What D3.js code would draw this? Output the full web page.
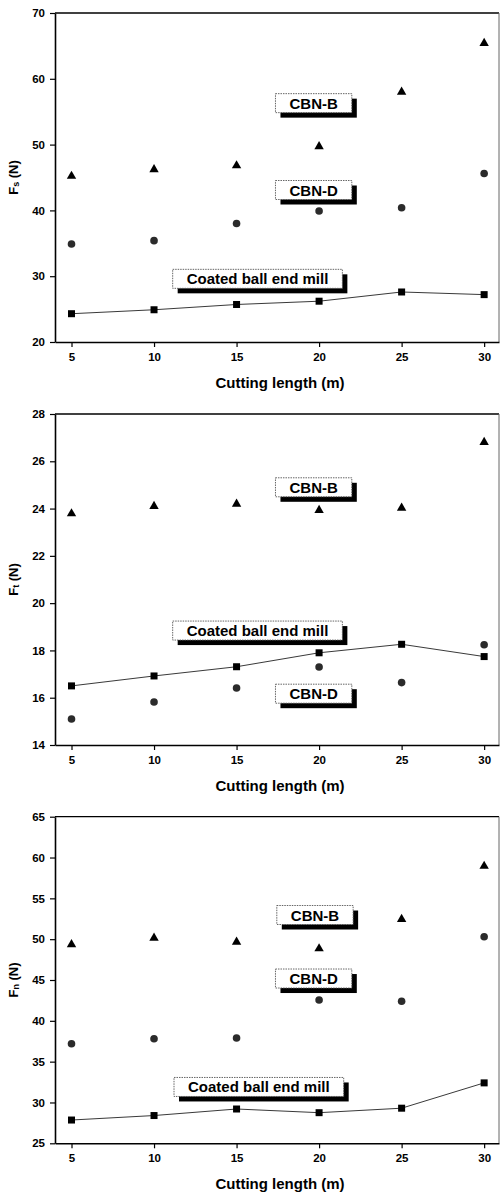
<!DOCTYPE html>
<html>
<head>
<meta charset="utf-8">
<script src="https://cdn.jsdelivr.net/npm/d3@7/dist/d3.min.js"></script>
<style>
  html, body { margin: 0; padding: 0; background: #fff; }
  svg { display: block; }
  text { font-family: "Liberation Sans", Arial, Helvetica, sans-serif; font-weight: bold; fill: #000; }
</style>
</head>
<body>
<svg id="chart" width="500" height="1194"></svg>
<script>
// ---------- data ----------
const cuttingLength = [5, 10, 15, 20, 25, 30];
const xTicks = [5, 10, 15, 20, 25, 30];

// Fs (N)
const fsCBNB   = [45.4, 46.4, 47.0, 49.9, 58.2, 65.6];
const fsCBND   = [34.9, 35.4, 38.0, 39.9, 40.4, 45.6];
const fsCoated = [24.3, 24.9, 25.7, 26.2, 27.6, 27.2];
const fsTicks  = [20, 30, 40, 50, 60, 70];

// Ft (N)
const ftCBNB   = [23.84, 24.15, 24.25, 23.98, 24.08, 26.86];
const ftCBND   = [15.10, 15.82, 16.41, 17.30, 16.64, 18.24];
const ftCoated = [16.50, 16.92, 17.31, 17.90, 18.26, 17.74];
const ftTicks  = [14, 16, 18, 20, 22, 24, 26, 28];

// Fn (N)
const fnCBNB   = [49.5, 50.3, 49.8, 49.0, 52.6, 59.1];
const fnCBND   = [37.2, 37.8, 37.9, 42.55, 42.4, 50.3];
const fnCoated = [27.85, 28.4, 29.2, 28.75, 29.3, 32.4];
const fnTicks  = [25, 30, 35, 40, 45, 50, 55, 60, 65];

// annotation labels (data coordinates of box centres)
const fsNotes = [
  {text: "CBN-B", x: 19.67, y: 56.3},
  {text: "CBN-D", x: 19.67, y: 43.1},
  {text: "Coated ball end mill", x: 16.27, y: 29.6}
];
const ftNotes = [
  {text: "CBN-B", x: 19.67, y: 24.9},
  {text: "Coated ball end mill", x: 16.27, y: 18.84},
  {text: "CBN-D", x: 19.67, y: 16.17}
];
const fnNotes = [
  {text: "CBN-B", x: 19.75, y: 52.96},
  {text: "CBN-D", x: 19.67, y: 45.18},
  {text: "Coated ball end mill", x: 16.35, y: 31.9}
];

// ---------- layout ----------
const panels = [
  {sub: "s", ticks: fsTicks, b: fsCBNB, d: fsCBND, c: fsCoated, notes: fsNotes, top: 13, bottom: 342},
  {sub: "t", ticks: ftTicks, b: ftCBNB, d: ftCBND, c: ftCoated, notes: ftNotes, top: 414, bottom: 745},
  {sub: "n", ticks: fnTicks, b: fnCBNB, d: fnCBND, c: fnCoated, notes: fnNotes, top: 816.7, bottom: 1143.3}
];

const svg = d3.select("#chart");
const left = 55, right = 499;
const x = d3.scaleLinear().domain([4, 30.9]).range([left, right]);

panels.forEach(p => {
  const y = d3.scaleLinear().domain(d3.extent(p.ticks)).range([p.bottom, p.top]);
  const g = svg.append("g");

  // frame: top & right
  g.append("line").attr("x1", left).attr("x2", right).attr("y1", p.top).attr("y2", p.top)
    .attr("stroke", "#000").attr("stroke-width", 1.3);
  g.append("line").attr("x1", right).attr("x2", right).attr("y1", p.top).attr("y2", p.bottom)
    .attr("stroke", "#666").attr("stroke-width", 1);

  // y axis
  const ya = g.append("g").attr("transform", `translate(${left},0)`)
    .call(d3.axisLeft(y).tickValues(p.ticks).tickSize(5).tickSizeOuter(0).tickPadding(5).tickFormat(d3.format("d")));
  ya.select(".domain").attr("stroke", "#000").attr("stroke-width", 1.6);
  ya.selectAll(".tick line").attr("stroke", "#000").attr("stroke-width", 1.2);
  ya.selectAll("text").style("font-size", "11.5px").style("font-family", '"Liberation Sans", Arial, sans-serif').style("font-weight", "bold");

  // x axis
  const xa = g.append("g").attr("transform", `translate(0,${p.bottom})`)
    .call(d3.axisBottom(x).tickValues(xTicks).tickSize(5).tickSizeOuter(0).tickPadding(6).tickFormat(d3.format("d")));
  xa.select(".domain").attr("stroke", "#000").attr("stroke-width", 1.6);
  xa.selectAll(".tick line").attr("stroke", "#000").attr("stroke-width", 1.2);
  xa.selectAll("text").style("font-size", "11.5px").style("font-family", '"Liberation Sans", Arial, sans-serif').style("font-weight", "bold");

  // x title
  g.append("text").attr("x", (left + right) / 2 + 3).attr("y", p.bottom + 46)
    .attr("text-anchor", "middle").style("font-size", "15px").text("Cutting length (m)");

  // y title
  const yt = g.append("text")
    .attr("transform", `translate(13,${(p.top + p.bottom) / 2}) rotate(-90)`)
    .attr("text-anchor", "middle").attr("dominant-baseline", "central")
    .style("font-size", "13px");
  yt.append("tspan").text("F");
  yt.append("tspan").attr("dy", 3).style("font-size", "9px").text(p.sub);
  yt.append("tspan").attr("dy", -3).text(" (N)");

  // coated line
  const pts = cuttingLength.map((v, i) => [v, p.c[i]]);
  g.append("path").datum(pts)
    .attr("d", d3.line().x(d => x(d[0])).y(d => y(d[1])))
    .attr("fill", "none").attr("stroke", "#222").attr("stroke-width", 0.9);

  // squares
  const sq = 7;
  g.selectAll(".sq").data(pts).join("rect")
    .attr("x", d => x(d[0]) - sq / 2).attr("y", d => y(d[1]) - sq / 2)
    .attr("width", sq).attr("height", sq).attr("fill", "#000");

  // circles (CBN-D)
  g.selectAll(".ci").data(cuttingLength.map((v, i) => [v, p.d[i]])).join("circle")
    .attr("cx", d => x(d[0])).attr("cy", d => y(d[1])).attr("r", 3.8)
    .attr("fill", "#2b2b2b");

  // triangles (CBN-B)
  g.selectAll(".tr").data(cuttingLength.map((v, i) => [v, p.b[i]])).join("path")
    .attr("d", d => {
      const cx = x(d[0]), cy = y(d[1]);
      return `M${cx},${cy - 4.2}L${cx + 4.7},${cy + 4}L${cx - 4.7},${cy + 4}Z`;
    })
    .attr("fill", "#000");

  // annotation boxes
  p.notes.forEach(n => {
    const cx = x(n.x), cy = y(n.y);
    const ng = g.append("g");
    const t = ng.append("text").attr("x", cx).attr("y", cy)
      .attr("text-anchor", "middle").attr("dominant-baseline", "central")
      .style("font-size", "15px").text(n.text);
    const w = t.node().getComputedTextLength() + 28;
    const h = 19;
    ng.insert("rect", "text").attr("x", cx - w / 2 + 5).attr("y", cy - h / 2 + 5)
      .attr("width", w).attr("height", h).attr("fill", "#000");
    ng.insert("rect", "text").attr("x", cx - w / 2).attr("y", cy - h / 2)
      .attr("width", w).attr("height", h).attr("fill", "#fff")
      .attr("stroke", "#555").attr("stroke-width", 0.9).attr("stroke-dasharray", "1.5,1");
  });
});
</script>
</body>
</html>
